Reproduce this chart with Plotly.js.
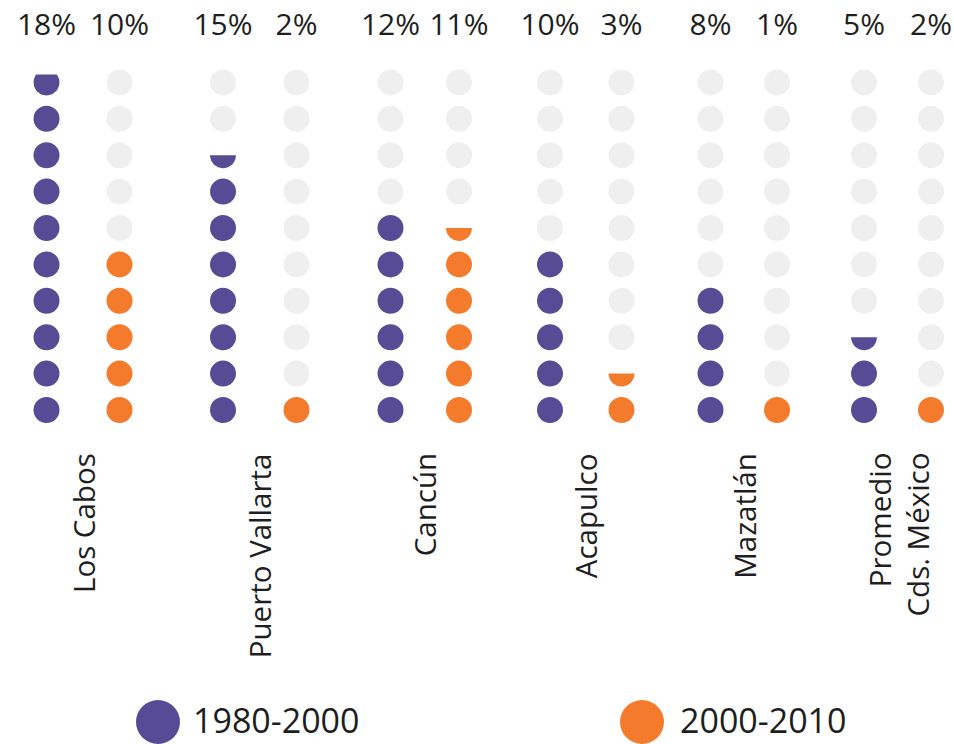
<!DOCTYPE html>
<html>
<head>
<meta charset="utf-8">
<script src="https://cdn.plot.ly/plotly-3.0.1.min.js"></script>
<style>html,body{margin:0;padding:0;background:#fff;}#chart{width:954px;height:744px;}</style>
</head>
<body>
<div id="chart"></div>
<script>
// ---- data ----
const categories = ['Los Cabos', 'Puerto Vallarta', 'Cancún', 'Acapulco', 'Mazatlán', 'Promedio<br>Cds. México'];
const seriesNames = ['1980-2000', '2000-2010'];
const pct1980 = [18, 15, 12, 10, 8, 5];     // labels above columns
const pct2000 = [10, 2, 11, 3, 1, 2];
const dots1980 = [9.8, 7.5, 6, 5, 4, 2.5];  // filled dots as drawn (1 dot ≈ 2%)
const dots2000 = [5, 1, 5.5, 1.5, 1, 1];

// ---- layout constants ----
const W = 954, H = 744;
const colX1980 = [46.5, 223, 390.5, 550, 710.5, 864];
const colX2000 = [119.5, 296.5, 459, 621.5, 777, 931];
const ROWS = 10, ROW0 = 410, ROWSTEP = 36.4, DOT = 26;
const COLORS = ['#574b96', '#f47a2c'];
const GRAY = '#efefef';
const TXT = '#1e1e1e';
const FONT = 'Open Sans, sans-serif';
const legendDotX = [158, 642], legendTextX = [193, 680], legendY = 722;

const rowY = k => ROW0 - k * ROWSTEP;

function buildSeries(xs, dots, color, name) {
  const fx = [], fy = [], gx = [], gy = [], px = [], py = [];
  xs.forEach((cx, i) => {
    const d = dots[i];
    const full = Math.floor(d + 1e-9);
    const frac = d - full;
    for (let k = 0; k < ROWS; k++) {
      if (k < full) { fx.push(cx); fy.push(rowY(k)); }
      else if (k === full && frac > 1e-6) {
        const cy = rowY(k), r = DOT / 2;
        const t0 = Math.asin(1 - 2 * frac);
        const N = 40;
        const sx = [], sy = [];
        for (let j = 0; j <= N; j++) {
          const t = t0 + (Math.PI - 2 * t0) * j / N;
          sx.push(cx + r * Math.cos(t)); sy.push(cy + r * Math.sin(t));
        }
        sx.push(sx[0]); sy.push(sy[0]);
        px.push(...sx, null); py.push(...sy, null);
      }
      else { gx.push(cx); gy.push(rowY(k)); }
    }
  });
  return [
    {type: 'scatter', mode: 'markers', x: gx, y: gy, name: name + ' (vacío)', showlegend: false, hoverinfo: 'skip',
     marker: {size: DOT, color: GRAY, line: {width: 0}}},
    {type: 'scatter', mode: 'markers', x: fx, y: fy, name: name, showlegend: false,
     marker: {size: DOT, color: color, line: {width: 0}}},
    {type: 'scatter', mode: 'lines', x: px, y: py, name: name + ' (parcial)', showlegend: false, hoverinfo: 'skip',
     fill: 'toself', fillcolor: color, line: {width: 0, color: color}}
  ];
}

const traces = [
  ...buildSeries(colX1980, dots1980, COLORS[0], seriesNames[0]),
  ...buildSeries(colX2000, dots2000, COLORS[1], seriesNames[1]),
  {type: 'scatter', mode: 'text', x: colX1980.concat(colX2000), y: Array(12).fill(27),
   text: pct1980.concat(pct2000).map(v => v + '%'), textposition: 'middle center',
   textfont: {family: FONT, size: 30, color: TXT}, showlegend: false, hoverinfo: 'skip'},
  // custom legend
  {type: 'scatter', mode: 'markers', x: legendDotX, y: [legendY, legendY], name: 'leyenda',
   marker: {size: 44, color: COLORS}, showlegend: false, hoverinfo: 'skip'},
  {type: 'scatter', mode: 'text', x: legendTextX, y: [legendY + 2, legendY + 2], text: seriesNames, textposition: 'middle right',
   textfont: {family: FONT, size: 34, color: TXT}, showlegend: false, hoverinfo: 'skip'}
];

const annotations = categories.map((c, i) => ({
  x: (colX1980[i] + colX2000[i]) / 2, y: 451, xref: 'x', yref: 'y',
  text: c, showarrow: false, textangle: -90, align: 'right',
  xanchor: 'center', yanchor: 'top',
  font: {family: FONT, size: 29.5, color: TXT}
}));

const layout = {
  width: W, height: H,
  margin: {l: 0, r: 0, t: 0, b: 0},
  paper_bgcolor: '#fff', plot_bgcolor: '#fff',
  xaxis: {range: [0, W], visible: false, fixedrange: true},
  yaxis: {range: [H, 0], visible: false, fixedrange: true},
  showlegend: false,
  annotations: annotations
};

Plotly.newPlot('chart', traces, layout, {displayModeBar: false, staticPlot: true});
</script>
</body>
</html>
